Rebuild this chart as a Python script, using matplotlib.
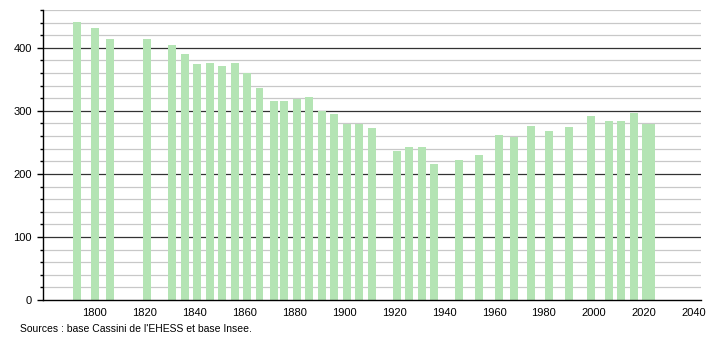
import matplotlib.pyplot as plt
import numpy as np

plt.rcParams['font.family'] = ['Liberation Sans', 'DejaVu Sans']

# Census years and population
years = [1793, 1800, 1806, 1821, 1831, 1836, 1841, 1846, 1851, 1856, 1861,
         1866, 1872, 1876, 1881, 1886, 1891, 1896, 1901, 1906, 1911, 1921,
         1926, 1931, 1936, 1946, 1954, 1962, 1968, 1975, 1982, 1990, 1999,
         2006, 2011, 2016, 2021, 2023]
population = [441, 432, 414, 414, 405, 390, 375, 376, 371, 376, 360,
              336, 316, 316, 319, 322, 300, 295, 279, 279, 273, 236,
              243, 243, 216, 222, 230, 262, 259, 276, 268, 275, 292,
              284, 284, 297, 279, 279]

x_ticks = [1800, 1820, 1840, 1860, 1880, 1900, 1920, 1940, 1960, 1980, 2000, 2020, 2040]
y_ticks = [0, 100, 200, 300, 400]
source = "Sources : base Cassini de l'EHESS et base Insee."

fig = plt.figure(figsize=(7.1, 3.4), dpi=100)
ax = fig.add_axes([43 / 710, 1 - 300 / 340, 658 / 710, 290 / 340])

# grid: light minor every 20, dark major every 100
for v in np.arange(20, 461, 20):
    if v % 100 == 0:
        ax.axhline(v, color='#333333', lw=0.9, zorder=1)
    else:
        ax.axhline(v, color='#c8c8c8', lw=0.9, zorder=1)

ax.bar(years, population, width=3.2, color='#b4e4b4', zorder=2)

ax.set_xlim(1779.2, 2043)
ax.set_ylim(0, 460)
ax.set_xticks(x_ticks)
ax.set_yticks(y_ticks)
ax.set_yticks(np.arange(20, 461, 20), minor=True)
ax.tick_params(axis='x', length=0, labelsize=8, pad=6)
ax.tick_params(axis='y', which='major', length=4, width=1, labelsize=8, pad=4)
ax.tick_params(axis='y', which='minor', length=2, width=1)

for s in ['top', 'right']:
    ax.spines[s].set_visible(False)
ax.spines['left'].set_linewidth(1)
ax.spines['bottom'].set_linewidth(1)

fig.text(20 / 710, 1 - 329 / 340, source, fontsize=7.5, va='center', ha='left')

fig.savefig('out.png', dpi=100)
